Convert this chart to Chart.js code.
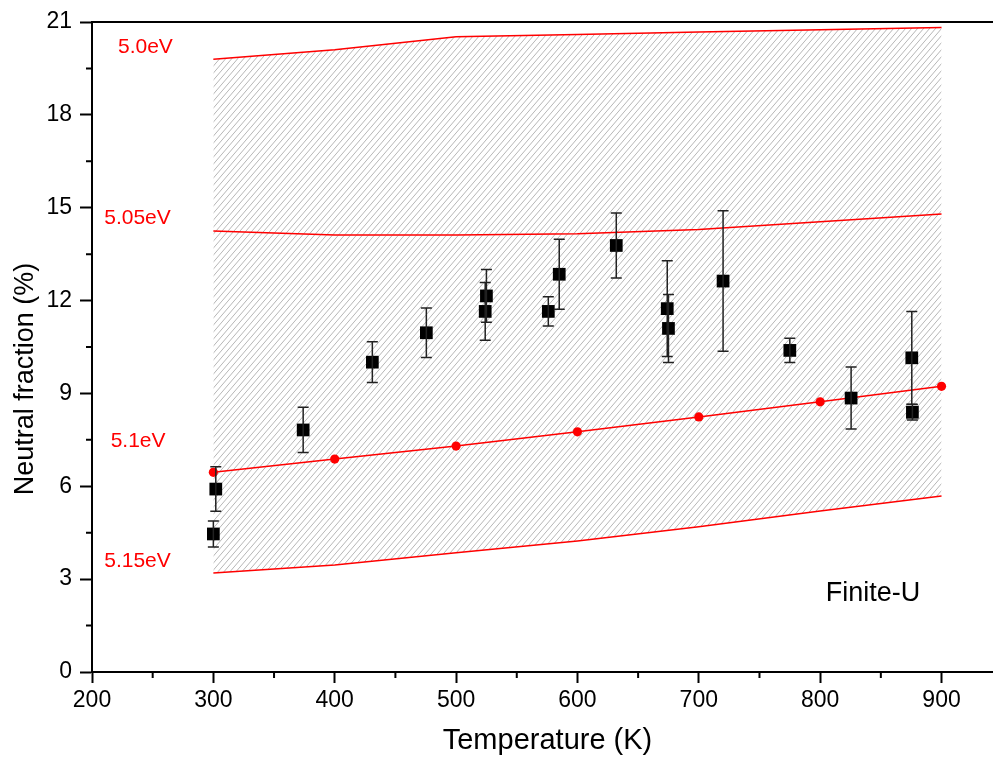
<!DOCTYPE html>
<html>
<head>
<meta charset="utf-8">
<script src="https://cdn.jsdelivr.net/npm/chart.js@4"></script>
<style>
  html, body { margin: 0; padding: 0; background: #fff; overflow: hidden; }
  canvas { display: block; }
</style>
</head>
<body>
<canvas id="chart" width="993" height="757"></canvas>
<script>
// model curves (Finite-U), one value per temperature
const temps = [300, 400, 500, 600, 700, 800, 900];
const curve500 = [19.8, 20.1, 20.52, 20.6, 20.68, 20.75, 20.82];
const curve505 = [14.25, 14.12, 14.12, 14.16, 14.3, 14.55, 14.8];
const curve510 = [6.45, 6.88, 7.3, 7.76, 8.24, 8.73, 9.23];
const curve515 = [3.2, 3.46, 3.85, 4.23, 4.69, 5.2, 5.69];

// measured neutral fraction with error bars
const measT = [300, 302, 374, 431, 475.5, 524, 525, 576, 585, 632, 674, 675, 720, 775, 825.5, 875.5, 876];
const measY = [4.46, 5.91, 7.82, 10.01, 10.96, 11.65, 12.15, 11.65, 12.85, 13.78, 11.74, 11.1, 12.63, 10.39, 8.85, 10.15, 8.39];
const measErr = [0.42, 0.72, 0.73, 0.66, 0.8, 0.93, 0.85, 0.47, 1.13, 1.05, 1.55, 1.1, 2.27, 0.39, 1.0, 1.5, 0.25];

// curve labels, placed in data coordinates
const curveNames = ['5.0eV', '5.05eV', '5.1eV', '5.15eV'];
const nameT = [244, 237.5, 238, 237.5];
const nameY = [20.17, 14.67, 7.47, 3.59];

const xTicksMinor = [250, 350, 450, 550, 650, 750, 850];
const yTicksMinor = [1.5, 4.5, 7.5, 10.5, 13.5, 16.5, 19.5];

const FONT = "'Liberation Sans', Arial, sans-serif";
const RED = '#ff0000';

const canvas = document.getElementById('chart');
const ctx = canvas.getContext('2d');

// diagonal hatch for the band between 5.0eV and 5.15eV
function makeHatch() {
    const w = 6, h = 7;
    const c = document.createElement('canvas');
    c.width = w; c.height = h;
    const g = c.getContext('2d');
    g.strokeStyle = '#b6b6b6';
    g.lineWidth = 1;
    g.beginPath();
    [[0, 0], [-w, 0], [w, 0], [0, -h], [0, h]].forEach(([dx, dy]) => {
        g.moveTo(dx, h + dy);
        g.lineTo(w + dx, dy);
    });
    g.stroke();
    return ctx.createPattern(c, 'repeat');
}

const pts = (ys) => temps.map((t, i) => ({ x: t, y: ys[i] }));

const noPad = (s) => { s.paddingLeft = 0; s.paddingRight = 0; s.paddingTop = 0; s.paddingBottom = 0; };

const decor = {
    id: 'decor',
    afterDatasetsDraw(chart) {
        const x = chart.scales.x, y = chart.scales.y;
        const c = chart.ctx;
        c.save();
        c.strokeStyle = '#222';
        c.lineWidth = 1.5;
        measT.forEach((t, i) => {
            const px = x.getPixelForValue(t);
            const top = y.getPixelForValue(measY[i] + measErr[i]);
            const bot = y.getPixelForValue(measY[i] - measErr[i]);
            c.beginPath();
            c.moveTo(px, top); c.lineTo(px, bot);
            c.moveTo(px - 5.5, top); c.lineTo(px + 5.5, top);
            c.moveTo(px - 5.5, bot); c.lineTo(px + 5.5, bot);
            c.stroke();
        });
        c.restore();
    },
    afterDraw(chart) {
        const x = chart.scales.x, y = chart.scales.y;
        const a = chart.chartArea;
        const c = chart.ctx;
        c.save();
        // frame: top line, bottom axis runs off the right edge
        c.strokeStyle = '#000';
        c.lineWidth = 2;
        c.beginPath();
        c.moveTo(a.left - 1, a.top); c.lineTo(chart.width, a.top);
        c.moveTo(a.right - 1, a.bottom); c.lineTo(chart.width, a.bottom);
        // minor ticks
        xTicksMinor.forEach(v => {
            const px = x.getPixelForValue(v);
            c.moveTo(px, a.bottom); c.lineTo(px, a.bottom + 6);
        });
        yTicksMinor.forEach(v => {
            const py = y.getPixelForValue(v);
            c.moveTo(a.left, py); c.lineTo(a.left - 6, py);
        });
        c.stroke();

        // curve names
        c.fillStyle = RED;
        c.font = `21px ${FONT}`;
        c.textAlign = 'center';
        c.textBaseline = 'middle';
        curveNames.forEach((n, i) => {
            c.fillText(n, x.getPixelForValue(nameT[i]), y.getPixelForValue(nameY[i]));
        });
        c.fillStyle = '#000';
        c.font = `27px ${FONT}`;
        c.fillText('Finite-U', x.getPixelForValue(843.5), y.getPixelForValue(2.55));

        // axis titles
        c.font = `29px ${FONT}`;
        c.fillText('Temperature (K)', (a.left + chart.width) / 2 + 5, 741);
        c.translate(26, (a.top + a.bottom) / 2 + 32);
        c.rotate(-Math.PI / 2);
        c.font = `27px ${FONT}`;
        c.fillText('Neutral fraction (%)', 0, 0);
        c.restore();
    }
};

const hatch = makeHatch();

new Chart(canvas, {
    type: 'line',
    data: {
        datasets: [
            {
                label: 'measured',
                data: measT.map((t, i) => ({ x: t, y: measY[i] })),
                showLine: false,
                pointStyle: 'rect',
                pointRadius: 9,
                backgroundColor: '#000',
                borderColor: '#000',
                borderWidth: 0
            },
            {
                label: '5.0eV',
                data: pts(curve500),
                borderColor: RED,
                borderWidth: 1.5,
                pointRadius: 0,
                fill: '+3',
                backgroundColor: hatch
            },
            {
                label: '5.05eV',
                data: pts(curve505),
                borderColor: RED,
                borderWidth: 1.5,
                pointRadius: 0,
                fill: false
            },
            {
                label: '5.1eV',
                data: pts(curve510),
                borderColor: RED,
                borderWidth: 1.5,
                pointRadius: 4.6,
                pointBackgroundColor: RED,
                pointBorderWidth: 0,
                fill: false
            },
            {
                label: '5.15eV',
                data: pts(curve515),
                borderColor: RED,
                borderWidth: 1.5,
                pointRadius: 0,
                fill: false
            }
        ]
    },
    options: {
        responsive: false,
        animation: false,
        layout: { padding: { top: 22, right: 0, bottom: 0, left: 0 } },
        plugins: {
            legend: { display: false },
            tooltip: { enabled: false },
            filler: { drawTime: 'beforeDatasetsDraw' }
        },
        scales: {
            x: {
                type: 'linear',
                min: 200,
                max: 935,
                afterFit: (s) => { s.height = 85; noPad(s); },
                ticks: {
                    stepSize: 100,
                    includeBounds: false,
                    autoSkip: false,
                    maxRotation: 0,
                    color: '#000',
                    padding: 4,
                    font: { family: FONT, size: 23 }
                },
                grid: { drawOnChartArea: false, tickLength: 11, tickWidth: 2, tickColor: '#000' },
                border: { display: true, color: '#000', width: 2 }
            },
            y: {
                type: 'linear',
                min: 0,
                max: 21,
                afterFit: (s) => { s.width = 92; noPad(s); },
                ticks: {
                    stepSize: 3,
                    includeBounds: false,
                    color: '#000',
                    padding: 8,
                    font: { family: FONT, size: 23 }
                },
                grid: { drawOnChartArea: false, tickLength: 12, tickWidth: 2, tickColor: '#000' },
                border: { display: true, color: '#000', width: 2 }
            }
        }
    },
    plugins: [decor]
});
</script>
</body>
</html>
